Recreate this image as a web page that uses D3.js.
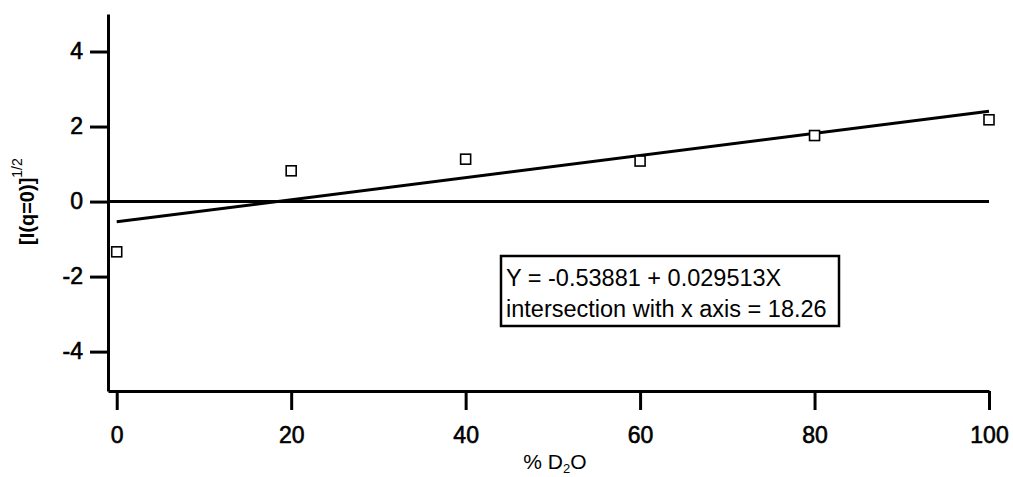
<!DOCTYPE html>
<html>
<head>
<meta charset="utf-8">
<script src="https://cdn.jsdelivr.net/npm/d3@7"></script>
<style>
  html, body { margin: 0; padding: 0; background: #fff; }
  svg { display: block; font-family: "Liberation Sans", Arial, sans-serif; }
</style>
</head>
<body>
<svg id="chart"></svg>
<script>
// measured points
const d2oPercent = [0, 20, 40, 60, 80, 100];
const sqrtI0 = [-1.34, 0.82, 1.13, 1.08, 1.76, 2.18];

// linear fit drawn on the chart (end points)
const fitX = [0, 100];
const fitY = [-0.54, 2.41];

const xTicks = [0, 20, 40, 60, 80, 100];
const yTicks = [-4, -2, 0, 2, 4];

const fitLabel = [
  "Y = -0.53881 + 0.029513X",
  "intersection with x axis = 18.26"
];

const width = 1013;
const height = 477;
const margin = { left: 108, right: 24, top: 14, bottom: 86 };

const xScale = d3.scaleLinear()
  .domain([-1, 100])
  .range([margin.left, width - margin.right]);

const yScale = d3.scaleLinear()
  .domain([-5.05, 5])
  .range([height - margin.bottom, margin.top]);

const chart = d3.select("#chart")
  .attr("width", width)
  .attr("height", height);

// zero line
chart.append("line")
  .attr("x1", xScale(-1))
  .attr("x2", xScale(100))
  .attr("y1", yScale(0))
  .attr("y2", yScale(0))
  .attr("stroke", "#000")
  .attr("stroke-width", 3);

// fit line
chart.append("path")
  .datum(fitX.map((x, i) => [x, fitY[i]]))
  .attr("fill", "none")
  .attr("stroke", "#000")
  .attr("stroke-width", 3)
  .attr("d", d3.line().x((d) => xScale(d[0])).y((d) => yScale(d[1])));

// data markers
const size = 10;
chart.append("g")
  .selectAll("rect")
  .data(d2oPercent)
  .enter()
  .append("rect")
  .attr("x", (d) => xScale(d) - size / 2)
  .attr("y", (d, i) => yScale(sqrtI0[i]) - size / 2)
  .attr("width", size)
  .attr("height", size)
  .attr("fill", "#fff")
  .attr("stroke", "#000")
  .attr("stroke-width", 1.6);

// axes
const fmt = (d) => String(d);

const xAxis = chart.append("g")
  .attr("transform", `translate(0, ${height - margin.bottom})`)
  .call(d3.axisBottom(xScale).tickValues(xTicks).tickFormat(fmt)
    .tickSize(19).tickSizeOuter(0).tickPadding(17));

const yAxis = chart.append("g")
  .attr("transform", `translate(${margin.left}, 0)`)
  .call(d3.axisLeft(yScale).tickValues(yTicks).tickFormat(fmt)
    .tickSize(18).tickSizeOuter(0).tickPadding(7));

[xAxis, yAxis].forEach((ax) => {
  ax.select(".domain").attr("stroke-width", 3);
  ax.selectAll(".tick line").attr("stroke-width", 3);
  ax.selectAll(".tick text")
    .attr("font-size", 23)
    .attr("font-family", "Liberation Sans, Arial, sans-serif")
    .attr("fill", "#000")
    .attr("stroke", "#000")
    .attr("stroke-width", 0.6);
});

// axis titles
const xTitle = chart.append("text")
  .attr("x", 555)
  .attr("y", 469)
  .attr("text-anchor", "middle")
  .attr("font-size", 21);
xTitle.append("tspan").text("% D");
xTitle.append("tspan").attr("font-size", 13).attr("dy", 4).text("2");
xTitle.append("tspan").attr("dy", -4).text("O");

const yTitle = chart.append("text")
  .attr("transform", `translate(34, ${yScale(0)}) rotate(-90)`)
  .attr("text-anchor", "middle")
  .attr("font-size", 20)
  .attr("font-weight", "bold");
yTitle.append("tspan").text("[I(q=0)]");
yTitle.append("tspan").attr("font-size", 14).attr("dy", -12).attr("font-weight", "normal").text("1/2");

// fit annotation box
const box = chart.append("g").attr("transform", "translate(501, 256)");
box.append("rect")
  .attr("width", 338)
  .attr("height", 70)
  .attr("fill", "#fff")
  .attr("stroke", "#000")
  .attr("stroke-width", 2.5);
box.selectAll("text")
  .data(fitLabel)
  .enter()
  .append("text")
  .attr("x", 5)
  .attr("y", (d, i) => 30 + i * 31)
  .attr("font-size", 23.5)
  .text((d) => d);
</script>
</body>
</html>
